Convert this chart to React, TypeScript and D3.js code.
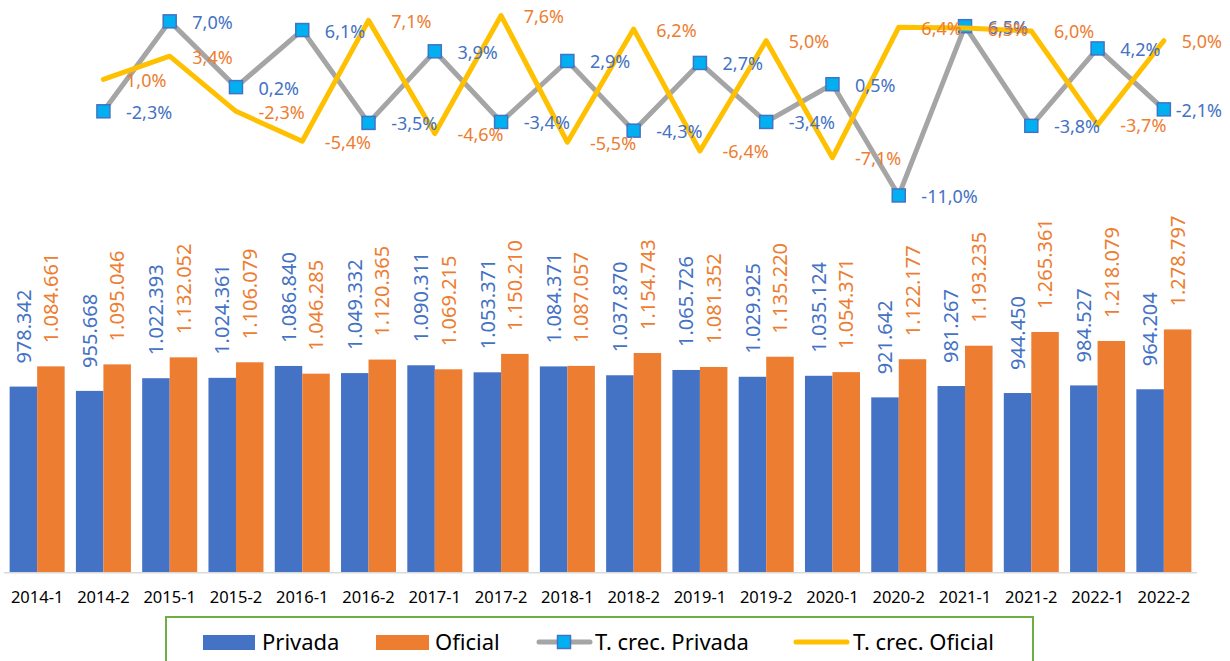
import React, { useEffect, useRef } from 'react';
import * as d3 from 'd3';

const categories = [
  "2014-1", "2014-2", "2015-1", "2015-2", "2016-1", "2016-2", "2017-1", "2017-2", "2018-1",
  "2018-2", "2019-1", "2019-2", "2020-1", "2020-2", "2021-1", "2021-2", "2022-1", "2022-2",
];

const privada = [
  978342, 955668, 1022393, 1024361, 1086840, 1049332, 1090311, 1053371, 1084371,
  1037870, 1065726, 1029925, 1035124, 921642, 981267, 944450, 984527, 964204,
];

const oficial = [
  1084661, 1095046, 1132052, 1106079, 1046285, 1120365, 1069215, 1150210, 1087057,
  1154743, 1081352, 1135220, 1054371, 1122177, 1193235, 1265361, 1218079, 1278797,
];

// growth rates start at the second semester
const tcPrivada = [-2.3, 7.0, 0.2, 6.1, -3.5, 3.9, -3.4, 2.9, -4.3, 2.7, -3.4, 0.5, -11.0, 6.5, -3.8, 4.2, -2.1];
const tcOficial = [1.0, 3.4, -2.3, -5.4, 7.1, -4.6, 7.6, -5.5, 6.2, -6.4, 5.0, -7.1, 6.4, 6.3, 6.0, -3.7, 5.0];

const BLUE = "#4472C4";
const ORANGE = "#ED7D31";
const GRAY = "#A5A5A5";
const YELLOW = "#FFC000";
const CYAN = "#00B0F0";
const FONT = "'Noto Sans', sans-serif";

const locale = d3.formatLocale({ decimal: ",", thousands: ".", grouping: [3], currency: ["", ""], minus: "-" });
const fmtNum = locale.format(",d");
const fmtPct = (v: number) => locale.format(".1f")(v) + "%";

const Chart: React.FC = () => {
  const svgRef = useRef<SVGSVGElement>(null);

  useEffect(() => {
    if (!svgRef.current) return;
    const width = 1230;
    const height = 661;
    const baseline = 572.7;

    const svg = d3.select(svgRef.current);
    svg.selectAll("*").remove();

    svg.append("rect").attr("width", width).attr("height", height).attr("fill", "#fff");

    const x = d3.scaleBand<string>().domain(categories).range([4, 1197]).paddingInner(0.17).paddingOuter(0.085);
    const xSub = d3.scaleBand<string>().domain(["privada", "oficial"]).range([0, x.bandwidth()]);
    const y = d3.scaleLinear().domain([0, 3000000]).range([baseline, 2]);
    const y2 = d3.scaleLinear().domain([-50, 9]).range([baseline, 2]);

    const cx = (c: string) => (x(c) as number) + x.bandwidth() / 2;

    // Bars
    const series = [
      { key: "privada", values: privada, color: BLUE },
      { key: "oficial", values: oficial, color: ORANGE },
    ];

    series.forEach(s => {
      svg.append("g")
        .selectAll("rect")
        .data(s.values)
        .enter().append("rect")
        .attr("x", (d, i) => (x(categories[i]) as number) + (xSub(s.key) as number))
        .attr("y", d => y(d))
        .attr("width", xSub.bandwidth())
        .attr("height", d => baseline - y(d))
        .attr("fill", s.color);
    });

    // Axis line
    svg.append("line")
      .attr("x1", 4).attr("x2", 1197)
      .attr("y1", baseline).attr("y2", baseline)
      .attr("stroke", "#D9D9D9").attr("stroke-width", 1.5);

    // X labels
    svg.append("g")
      .selectAll("text")
      .data(categories)
      .enter().append("text")
      .attr("x", d => cx(d))
      .attr("y", 603)
      .attr("text-anchor", "middle")
      .style("font-family", FONT)
      .style("font-size", "16.5px")
      .attr("fill", "#000")
      .text(d => d);

    // Bar labels (rotated)
    series.forEach(s => {
      svg.append("g")
        .selectAll("text")
        .data(s.values)
        .enter().append("text")
        .attr("transform", (d, i) => {
          const bx = (x(categories[i]) as number) + (xSub(s.key) as number) + xSub.bandwidth() / 2;
          return `translate(${bx},${y(d) - 23}) rotate(-90)`;
        })
        .attr("dy", "0.36em")
        .style("font-family", FONT)
        .style("font-size", "20px")
        .attr("fill", s.color)
        .text(d => fmtNum(d));
    });

    // Growth lines
    const growthCats = categories.slice(1);
    const line = d3.line<number>()
      .x((d, i) => cx(growthCats[i]))
      .y(d => y2(d));

    svg.append("path")
      .datum(tcPrivada)
      .attr("fill", "none")
      .attr("stroke", GRAY)
      .attr("stroke-width", 5)
      .attr("stroke-linejoin", "round")
      .attr("stroke-linecap", "round")
      .attr("d", line);

    svg.append("g")
      .selectAll("rect")
      .data(tcPrivada)
      .enter().append("rect")
      .attr("x", (d, i) => cx(growthCats[i]) - 6.5)
      .attr("y", d => y2(d) - 6.5)
      .attr("width", 13)
      .attr("height", 13)
      .attr("fill", CYAN)
      .attr("stroke", BLUE)
      .attr("stroke-width", 1.5);

    svg.append("path")
      .datum(tcOficial)
      .attr("fill", "none")
      .attr("stroke", YELLOW)
      .attr("stroke-width", 5)
      .attr("stroke-linejoin", "round")
      .attr("stroke-linecap", "round")
      .attr("d", line);

    // Line labels, to the right of each point, kept inside the chart
    const lineLabels = (values: number[], color: string) => {
      const g = svg.append("g");
      values.forEach((v, i) => {
        const t = g.append("text")
          .attr("x", cx(growthCats[i]) + 22.6)
          .attr("y", y2(v) + 1)
          .attr("dy", "0.36em")
          .style("font-family", FONT)
          .style("font-size", "18px")
          .attr("fill", color)
          .text(fmtPct(v));
        const node = t.node() as SVGTextElement;
        const w = node.getComputedTextLength();
        const tx = cx(growthCats[i]) + 22.6;
        if (tx + w > 1222) t.attr("x", 1222 - w);
      });
    };
    lineLabels(tcPrivada, BLUE);
    lineLabels(tcOficial, ORANGE);

    // Legend
    const legend = svg.append("g");
    legend.append("rect")
      .attr("x", 166).attr("y", 617)
      .attr("width", 867).attr("height", 70)
      .attr("fill", "#fff")
      .attr("stroke", "#70AD47").attr("stroke-width", 2);

    const ly = 642;
    const legendText = (tx: number, label: string) =>
      legend.append("text")
        .attr("x", tx).attr("y", 649.5)
        .style("font-family", FONT)
        .style("font-size", "22px")
        .attr("fill", "#000")
        .text(label);

    legend.append("rect").attr("x", 203).attr("y", 635).attr("width", 52).attr("height", 15).attr("fill", BLUE);
    legendText(262, "Privada");
    legend.append("rect").attr("x", 376).attr("y", 635).attr("width", 53).attr("height", 15).attr("fill", ORANGE);
    legendText(435, "Oficial");
    legend.append("line").attr("x1", 539).attr("x2", 590).attr("y1", ly).attr("y2", ly)
      .attr("stroke", GRAY).attr("stroke-width", 5).attr("stroke-linecap", "round");
    legend.append("rect").attr("x", 564 - 6.5).attr("y", ly - 6.5).attr("width", 13).attr("height", 13)
      .attr("fill", CYAN).attr("stroke", BLUE).attr("stroke-width", 1.5);
    legendText(595, "T. crec. Privada");
    legend.append("line").attr("x1", 796).attr("x2", 847).attr("y1", ly).attr("y2", ly)
      .attr("stroke", YELLOW).attr("stroke-width", 5).attr("stroke-linecap", "round");
    legendText(853, "T. crec. Oficial");
  }, []);

  return <svg ref={svgRef} width="1230" height="661" viewBox="0 0 1230 661" style={{ display: "block" }}></svg>;
};

export default function App() {
  useEffect(() => {
    document.body.style.margin = "0";
  }, []);
  return <Chart />;
}
